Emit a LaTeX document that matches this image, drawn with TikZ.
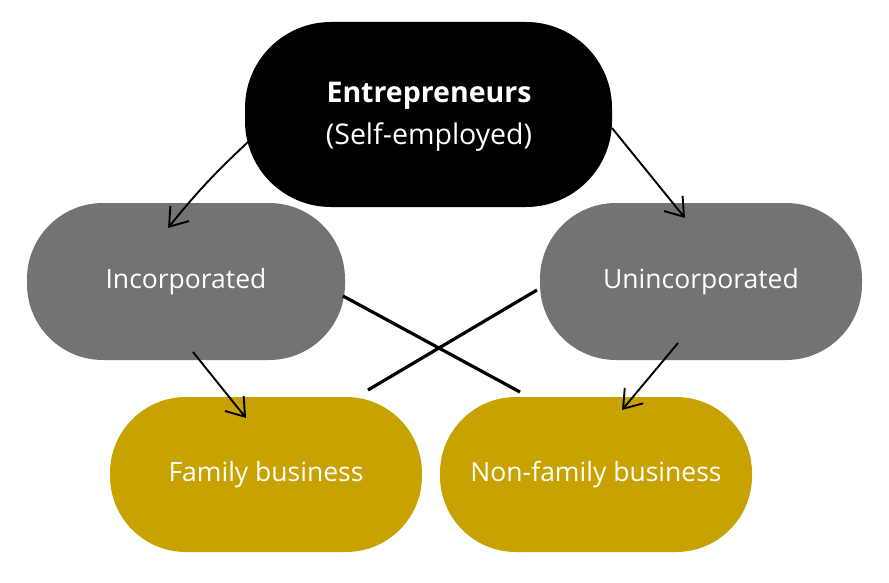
\documentclass[tikz,border=0pt]{standalone}
\usepackage{fontspec}
\setmainfont{Open Sans}
\usetikzlibrary{arrows.meta,calc}
\definecolor{boxgray}{HTML}{737373}
\definecolor{boxgold}{HTML}{C8A200}
\tikzset{
  pill/.style={draw=none, minimum width=#1, text=white, font=\fontsize{26.5}{32}\selectfont, align=center},
  toptype/.style={pill=367pt, fill=black, minimum height=185pt, rounded corners=86pt, font=\fontsize{28.5}{34}\selectfont},
  midtype/.style={pill=320pt, fill=boxgray, minimum height=157pt, rounded corners=76pt},
  lowtype/.style={pill=312pt, fill=boxgold, minimum height=155pt, rounded corners=76pt},
  arr/.style={-{Straight Barb[length=17pt,width=24pt]}, line width=1.9pt, black},
  cross/.style={line width=3.2pt, black}
}
\begin{document}
\begin{tikzpicture}[x=1pt,y=-1pt]
\useasboundingbox (0,0) rectangle (889,583);
\node[midtype, minimum width=318pt] (inc) at (186,281.5) {Incorporated};
\node[midtype, minimum width=322pt] (uninc) at (701,281.5) {Unincorporated};
\node[toptype] (ent) at (428.5,114.5) {};
\node[text=white, font=\fontsize{28.5}{34}\selectfont\bfseries] (entA) at (429,96) {Entrepreneurs};
\node[text=white, font=\fontsize{28.5}{34}\selectfont] (entB) at (429,137) {(Self-employed)};
\node[lowtype] (fam) at (266,474.5) {Family business};
\node[lowtype] (nonfam) at (596,474.5) {Non-family business};
% connector end points
\coordinate (a1s) at (248,142);
\coordinate (a1e) at (168,228);
\coordinate (a2s) at (612,128);
\coordinate (a2e) at (685,218);
\coordinate (a3s) at (193,352);
\coordinate (a3e) at (246,418);
\coordinate (a4s) at (678,343);
\coordinate (a4e) at (622,410);
\coordinate (c1s) at (343,296);
\coordinate (c1e) at (520,392);
\coordinate (c2s) at (537,290);
\coordinate (c2e) at (368,390);
\draw[arr] (a1s) to[bend right=4] (a1e);
\draw[arr] (a2s) -- (a2e);
\draw[arr] (a3s) -- (a3e);
\draw[arr] (a4s) -- (a4e);
\draw[cross] (c1s) -- (c1e);
\draw[cross] (c2s) -- (c2e);
\end{tikzpicture}
\end{document}
